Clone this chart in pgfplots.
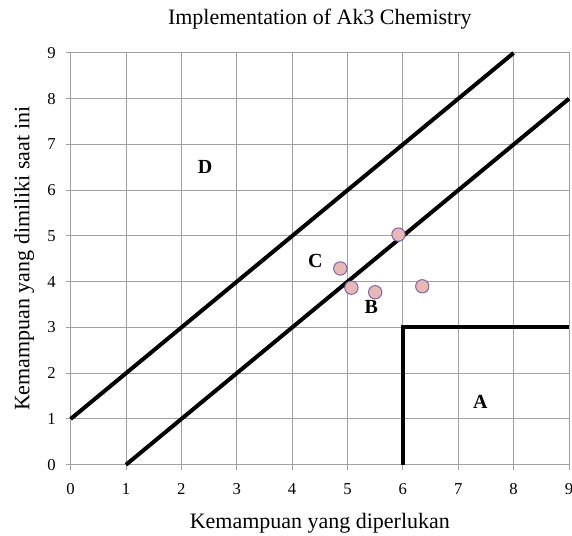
\documentclass[border=0pt]{standalone}
\usepackage{pgfplots}
\pgfplotsset{compat=1.18}
\usepackage{fontspec}
\setmainfont{Liberation Serif}
\definecolor{gridgray}{RGB}{160,160,160}
\definecolor{mkfill}{RGB}{230,185,184}
\definecolor{mkedge}{RGB}{128,100,162}
\begin{document}
\begin{tikzpicture}
\begin{axis}[
  scale only axis,
  width=374pt, height=309pt,
  xmin=0, xmax=9, ymin=0, ymax=9,
  xtick={0,1,2,3,4,5,6,7,8,9}, ytick={0,1,2,3,4,5,6,7,8,9},
  xticklabels={0,1,2,3,4,5,6,7,8,9},
  yticklabels={0,1,2,3,4,5,6,7,8,9},
  grid=major,
  major grid style={draw=gridgray, line width=0.75pt},
  axis line style={draw=gridgray, line width=0.75pt},
  tick style={draw=gridgray, line width=0.75pt},
  tick align=outside,
  major tick length=3.75pt,
  xtick pos=bottom, ytick pos=left,
  tick label style={font=\rmfamily\fontsize{12.5}{14}\selectfont},
  xticklabel style={yshift=-6.5pt},
  yticklabel style={xshift=-4pt},
  title={Implementation of Ak3 Chemistry},
  title style={font=\fontsize{16.5}{19}\selectfont, yshift=8pt},
  xlabel={Kemampuan yang diperlukan},
  ylabel={Kemampuan yang dimiliki saat ini},
  label style={font=\fontsize{16.5}{19}\selectfont},
  xlabel style={yshift=-7pt},
  ylabel style={yshift=3pt},
  clip=false,
]
\addplot[black, line width=3pt] coordinates {(0,1) (8,9)};
\addplot[black, line width=3pt] coordinates {(1,0) (9,8)};
\addplot[black, line width=3pt] coordinates {(6,0) (6,3) (9,3)};
\addplot[only marks, mark=*, mark size=5pt, mark options={fill=mkfill, draw=mkedge, line width=0.75pt}] coordinates {
(5.92,5.03) (4.87,4.29) (5.07,3.87) (5.50,3.77) (6.35,3.90)};
\node[font=\fontsize{15}{17}\selectfont\bfseries] at (axis cs:2.43,6.51) {D};
\node[font=\fontsize{15}{17}\selectfont\bfseries] at (axis cs:4.42,4.46) {C};
\node[font=\fontsize{15}{17}\selectfont\bfseries] at (axis cs:5.43,3.45) {B};
\node[font=\fontsize{15}{17}\selectfont\bfseries] at (axis cs:7.40,1.38) {A};
\end{axis}
\pgfresetboundingbox
\path (current axis.south west) +(-53pt,-53pt) (current axis.north east) +(2.25pt,39.75pt);
\end{tikzpicture}
\end{document}
